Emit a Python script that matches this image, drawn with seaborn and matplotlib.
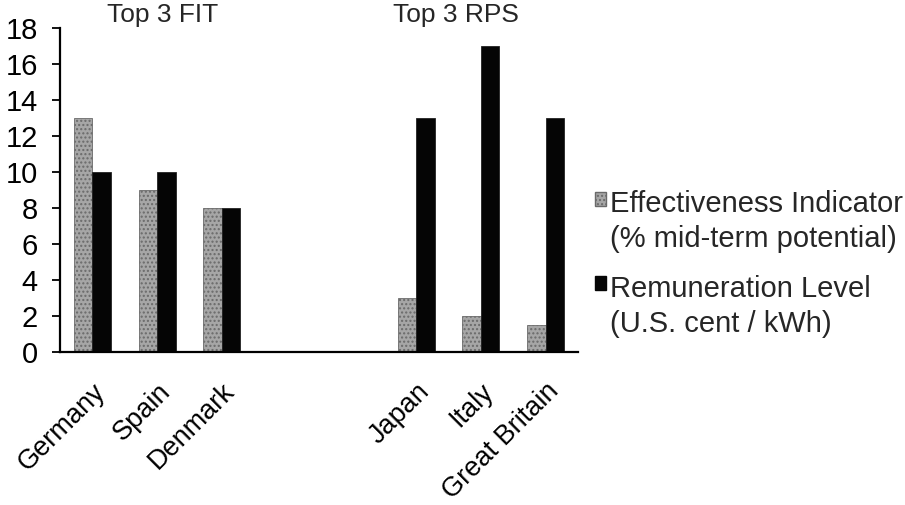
"""Effectiveness vs remuneration for top FIT and RPS countries."""

import matplotlib.patches as mpatches
import matplotlib.pyplot as plt
import pandas as pd
import seaborn as sns
from matplotlib.legend_handler import HandlerPatch

COUNTRIES = ["Germany", "Spain", "Denmark", "Japan", "Italy", "Great Britain"]
EFFECTIVENESS = [13, 9, 8, 3, 2, 1.5]
REMUNERATION = [10, 10, 8, 13, 17, 13]
SERIES = [
    "Effectiveness Indicator\n(% mid-term potential)",
    "Remuneration Level\n(U.S. cent / kWh)",
]
# two empty slots separate the FIT group from the RPS group
ORDER = COUNTRIES[:3] + ["", " "] + COUNTRIES[3:]
Y_TICKS = list(range(0, 19, 2))

LIGHT = "#a6a6a6"
DARK = "#050505"


def _raised_square(legend, orig_handle, xdescent, ydescent, width, height, fontsize):
    """Small square handle lifted to sit beside the first line of a 2-line label."""
    return mpatches.Rectangle((-xdescent, -ydescent + 0.8 * fontsize), width, height)


sns.set_theme(style="white")
plt.rcParams["font.family"] = ["Liberation Sans", "DejaVu Sans"]

df = pd.DataFrame({
    "country": COUNTRIES * 2,
    "value": EFFECTIVENESS + REMUNERATION,
    "series": [SERIES[0]] * len(COUNTRIES) + [SERIES[1]] * len(COUNTRIES),
})

fig = plt.figure(figsize=(9.05, 5.05), dpi=100)
ax = fig.add_axes([60 / 905, 1 - 352 / 505, 518 / 905, 324 / 505])

sns.barplot(
    data=df, x="country", y="value", hue="series", order=ORDER,
    hue_order=SERIES, palette=[LIGHT, DARK], width=0.57,
    edgecolor="#222222", linewidth=0.6, ax=ax, legend=False,
)
for bar in ax.containers[0]:
    bar.set_hatch("....")
    bar.set_edgecolor("#6a6a6a")

ax.set_xlim(-0.5, len(ORDER) - 0.5)
ax.set_ylim(0, 18)
ax.set_yticks(Y_TICKS)
ax.tick_params(axis="y", labelsize=21, length=6, width=1.3, direction="out",
               left=True, pad=10, colors="black")
ax.tick_params(axis="x", length=0, labelsize=19.5, pad=19, colors="black")
plt.setp(ax.get_xticklabels(), rotation=45, ha="right", rotation_mode="anchor")
ax.set_xlabel("")
ax.set_ylabel("")
for side in ["top", "right"]:
    ax.spines[side].set_visible(False)
for side in ["left", "bottom"]:
    ax.spines[side].set_color("black")
    ax.spines[side].set_linewidth(1.6)

ax.text(1.09, 18.33, "Top 3 FIT", fontsize=19, ha="center", va="baseline")
ax.text(5.62, 18.33, "Top 3 RPS", fontsize=19, ha="center", va="baseline")

handles = [
    mpatches.Rectangle((0, 0), 1, 1, facecolor=LIGHT, edgecolor="#6a6a6a",
                       hatch="...."),
    mpatches.Rectangle((0, 0), 1, 1, facecolor=DARK, edgecolor=DARK),
]
leg = fig.legend(
    handles, SERIES, loc="center left", bbox_to_anchor=(595 / 905, 1 - 264 / 505),
    frameon=False, fontsize=21, handlelength=0.36, handleheight=0.36,
    handletextpad=0.15, labelspacing=0.75, borderaxespad=0, borderpad=0,
    handler_map={mpatches.Rectangle: HandlerPatch(patch_func=_raised_square)},
)
for text in leg.get_texts():
    text.set_linespacing(1.3)

fig.savefig("out.png", dpi=100)
